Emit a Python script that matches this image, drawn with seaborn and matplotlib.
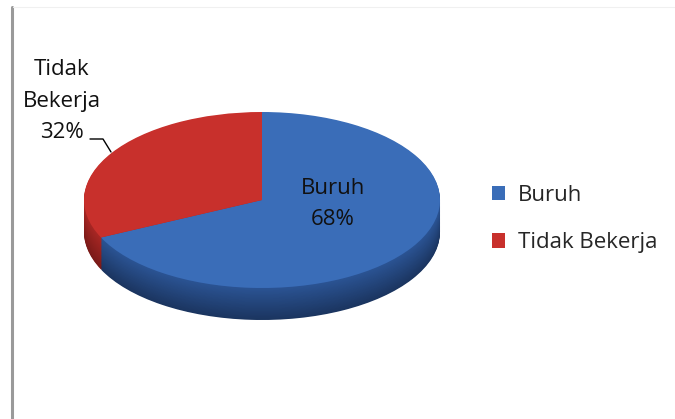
import matplotlib
matplotlib.use("Agg")
import matplotlib.pyplot as plt
from matplotlib.lines import Line2D
import seaborn as sns
import numpy as np

categories = ["Buruh", "Tidak Bekerja"]
values = [68, 32]
pct_labels = ["68%", "32%"]

sns.set_theme(style="white")
plt.rcParams['font.family'] = ['Open Sans', 'DejaVu Sans']

top_colors = ["#3A6DB8", "#C8302C"]
side_colors_dark = ["#1B3560", "#7A1A18"]
side_colors_light = ["#2B5494", "#A82724"]

W, H = 675, 419
fig = plt.figure(figsize=(W / 100, H / 100), dpi=100)
fig.patch.set_facecolor("white")

# pie axes box in pixel coords
x0, x1 = 84, 440
ytop, ybot = 112, 320
ry_px = 88
depth = (ybot - ytop) / ry_px - 2.0
ax = fig.add_axes([x0 / W, (H - ybot) / H, (x1 - x0) / W, (ybot - ytop) / H])

n_layers = 40
for k in range(n_layers, 0, -1):
    t = k / n_layers
    cols = []
    for cd, cl in zip(side_colors_dark, side_colors_light):
        a = np.array(matplotlib.colors.to_rgb(cd))
        b = np.array(matplotlib.colors.to_rgb(cl))
        cols.append(tuple(a * t + b * (1 - t)))
    ax.pie(values, colors=cols, startangle=90, counterclock=False,
           center=(0, -depth * t), radius=1.0,
           wedgeprops=dict(linewidth=0))

wedges, _ = ax.pie(values, colors=top_colors, startangle=90, counterclock=False,
                   center=(0, 0), radius=1.0, wedgeprops=dict(linewidth=0))
ax.set_aspect("auto")
ax.set_xlim(-1, 1)
ax.set_ylim(-1 - depth, 1)
ax.axis("off")

fs = 16
# data labels
fig.text(333 / W, 1 - 204 / H, f"{categories[0]}\n{pct_labels[0]}", ha="center", va="center",
         fontsize=fs, color="#111111", linespacing=1.65)
fig.text(62 / W, 1 - 101 / H, "Tidak\nBekerja\n" + pct_labels[1], ha="center", va="center",
         fontsize=fs, color="#111111", linespacing=1.65)
fig.add_artist(Line2D([90 / W, 103 / W, 111 / W], [1 - 139 / H, 1 - 139 / H, 1 - 152 / H],
                      color="black", lw=1.0, transform=fig.transFigure))

# frame lines
fig.add_artist(Line2D([12 / W, 12 / W], [0, 1 - 7 / H], color="#9A9A9A", lw=2.2,
                      transform=fig.transFigure))
fig.add_artist(Line2D([13 / W, 1], [1 - 7 / H, 1 - 7 / H], color="#F0F0F0", lw=0.8,
                      transform=fig.transFigure))

leg = fig.legend(wedges, categories, loc="center left", bbox_to_anchor=(492 / W, 1 - 219 / H),
                 frameon=False, fontsize=fs, handlelength=0.6, handleheight=0.6,
                 handletextpad=0.55, labelspacing=1.2, borderpad=0, borderaxespad=0)

fig.savefig("out.png", dpi=100)
